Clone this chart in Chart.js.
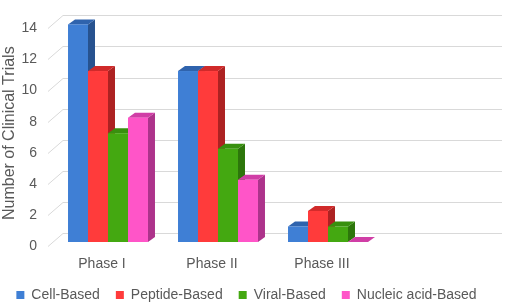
<!DOCTYPE html>
<html>
<head>
<meta charset="utf-8">
<script src="https://cdn.jsdelivr.net/npm/chart.js@4"></script>
<style>
  html, body { margin: 0; padding: 0; background: #fff; }
  #wrap { width: 505px; height: 305px; }
</style>
</head>
<body>
<div id="wrap"><canvas id="chart"></canvas></div>
<script>
// data
const categories = ['Phase I', 'Phase II', 'Phase III', ''];
const cellBased = [14, 11, 1, null];
const peptideBased = [11, 11, 2, null];
const viralBased = [7, 6, 1, null];
const nucleicBased = [8, 4, 0, null];
const yTicks = [0, 2, 4, 6, 8, 10, 12, 14];

const seriesNames = ['Cell-Based', 'Peptide-Based', 'Viral-Based', 'Nucleic acid-Based'];
const seriesValues = [cellBased, peptideBased, viralBased, nucleicBased];
// front, top, side shades for the 3D look
const shades = [
    ['#3f7fd5', '#2f63ad', '#27528f'],
    ['#ff3b3b', '#d02a2a', '#ad2222'],
    ['#44a811', '#38900e', '#2d760b'],
    ['#ff55c8', '#d03ea6', '#ad338b'],
];

const DX = 7;   // bar depth
const DY = 5;
const TEXT = '#595959';
const GRID = '#d9d9d9';

function poly(ctx, pts, fill) {
    ctx.beginPath();
    ctx.moveTo(pts[0][0], pts[0][1]);
    for (let i = 1; i < pts.length; i++) ctx.lineTo(pts[i][0], pts[i][1]);
    ctx.closePath();
    ctx.fillStyle = fill;
    ctx.fill();
}

const bars3d = {
    id: 'bars3d',
    beforeDatasetsDraw(chart) {
        const { ctx, chartArea, scales } = chart;
        const ys = scales.y;
        ctx.save();
        // perspective gridlines: short slant at the left, then the back wall
        ctx.strokeStyle = GRID;
        ctx.lineWidth = 1;
        yTicks.forEach((v) => {
            const py = Math.round(ys.getPixelForValue(v)) + 0.5;
            ctx.beginPath();
            ctx.moveTo(chartArea.left - 5, py + 4);
            ctx.lineTo(chartArea.left + 10, py - 9);
            ctx.lineTo(chartArea.right + 9, py - 9);
            ctx.stroke();
        });
        // bars, left to right so each front face covers the previous side
        for (let c = 0; c < categories.length; c++) {
            for (let d = 0; d < seriesValues.length; d++) {
                if (seriesValues[d][c] == null) continue;
                const bar = chart.getDatasetMeta(d).data[c];
                const x0 = bar.x - bar.width / 2;
                const x1 = bar.x + bar.width / 2;
                const top = bar.y;
                const base = bar.base;
                const [front, topC, side] = shades[d];
                poly(ctx, [[x1, base], [x1 + DX, base - DY], [x1 + DX, top - DY], [x1, top]], side);
                poly(ctx, [[x0, top], [x1, top], [x1 + DX, top - DY], [x0 + DX, top - DY]], topC);
                if (base - top > 0) {
                    ctx.fillStyle = front;
                    ctx.fillRect(x0, top, x1 - x0, base - top);
                }
            }
        }
        ctx.restore();
        return false;
    },
};

new Chart(document.getElementById('chart'), {
    type: 'bar',
    data: {
        labels: categories,
        datasets: seriesNames.map((name, i) => ({
            label: name,
            data: seriesValues[i],
            backgroundColor: shades[i][0],
            borderWidth: 0,
            categoryPercentage: 0.727,
            barPercentage: 1,
        })),
    },
    options: {
        responsive: true,
        maintainAspectRatio: false,
        animation: false,
        layout: { padding: { top: 11, right: 12, left: 0, bottom: 0 } },
        plugins: {
            tooltip: { enabled: false },
            legend: {
                position: 'bottom',
                maxHeight: 33,
                labels: {
                    boxWidth: 8,
                    boxHeight: 8,
                    padding: 16,
                    color: TEXT,
                    font: { family: "'Liberation Sans', Arial, sans-serif", size: 14 },
                },
            },
        },
        scales: {
            x: {
                grid: { display: false, drawTicks: false },
                border: { display: false },
                ticks: {
                    color: TEXT,
                    padding: 14,
                    labelOffset: -6,
                    maxRotation: 0,
                    font: { family: "'Liberation Sans', Arial, sans-serif", size: 14 },
                },
                afterFit: (s) => { s.height = 30; },
            },
            y: {
                min: 0,
                max: 14,
                grid: { display: false, drawTicks: false },
                border: { display: false },
                ticks: {
                    stepSize: 2,
                    color: TEXT,
                    padding: 16,
                    labelOffset: 4,
                    font: { family: "'Liberation Sans', Arial, sans-serif", size: 14 },
                },
                title: {
                    display: true,
                    text: 'Number of Clinical Trials',
                    color: TEXT,
                    padding: 0,
                    font: { family: "'Liberation Sans', Arial, sans-serif", size: 16 },
                },
                afterFit: (s) => { s.width = 53; },
            },
        },
    },
    plugins: [bars3d],
});
</script>
</body>
</html>
